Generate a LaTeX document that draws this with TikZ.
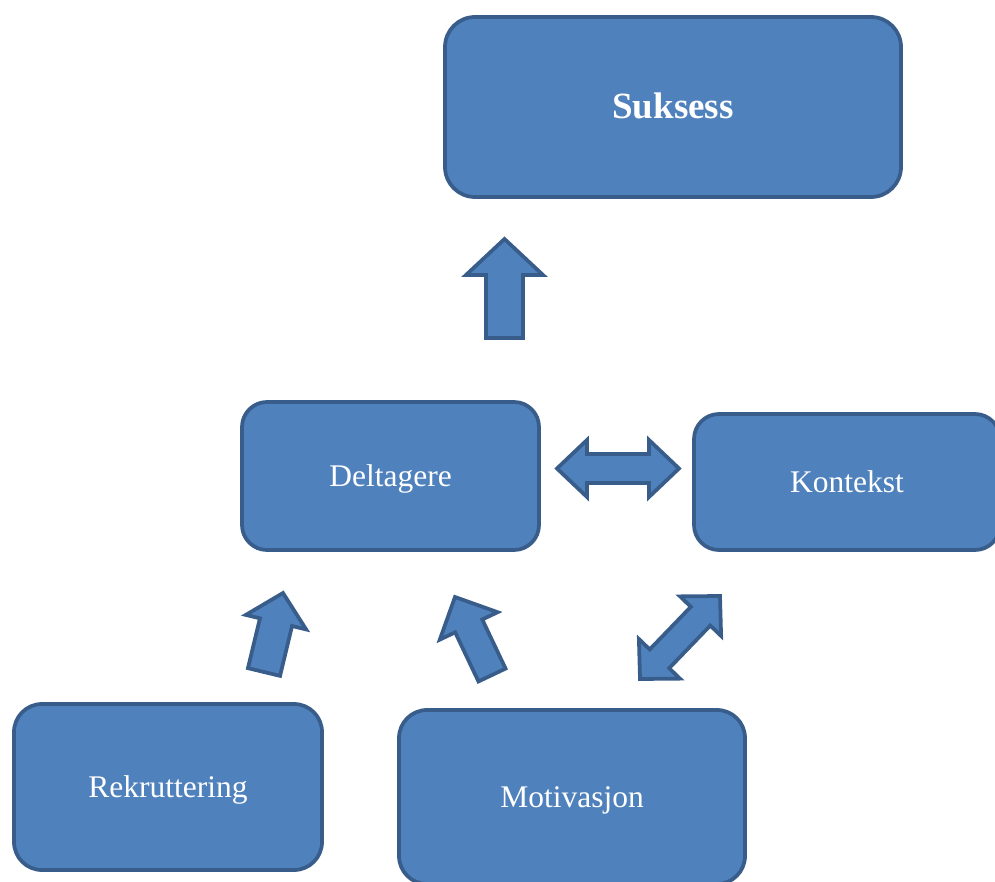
\documentclass[tikz,border=0pt]{standalone}
\usepackage{fontspec}
\setmainfont{Liberation Serif}
\usetikzlibrary{calc}
\definecolor{boxfill}{HTML}{4F81BD}
\definecolor{boxline}{HTML}{385D8A}
\tikzset{
  box/.style={draw=boxline, fill=boxfill, line width=3.75pt, text=white, font=\fontsize{31.5}{36}\selectfont, inner sep=0pt, text height=24pt, text depth=3pt},
  barrow/.style={draw=boxline, fill=boxfill, line width=3.75pt, line join=miter}
}
% single block arrow: base A, tip B, half shaft, half head, head length
\newcommand\singlearrow[5]{%
  \path[barrow] ($(#1)!#3!90:(#2)$) -- ($($(#2)!#5!(#1)$)!#3!90:(#2)$)
   -- ($($(#2)!#5!(#1)$)!#4!90:(#2)$) -- (#2)
   -- ($($(#2)!#5!(#1)$)!#4!-90:(#2)$) -- ($($(#2)!#5!(#1)$)!#3!-90:(#2)$)
   -- ($(#1)!#3!-90:(#2)$) -- cycle;}
% double block arrow: tips A and B
\newcommand\doublearrow[5]{%
  \path[barrow] (#1) -- ($($(#1)!#5!(#2)$)!#4!90:(#2)$) -- ($($(#1)!#5!(#2)$)!#3!90:(#2)$)
   -- ($($(#2)!#5!(#1)$)!#3!90:(#2)$) -- ($($(#2)!#5!(#1)$)!#4!90:(#2)$) -- (#2)
   -- ($($(#2)!#5!(#1)$)!#4!-90:(#2)$) -- ($($(#2)!#5!(#1)$)!#3!-90:(#2)$)
   -- ($($(#1)!#5!(#2)$)!#3!-90:(#2)$) -- ($($(#1)!#5!(#2)$)!#4!-90:(#2)$) -- cycle;}
\begin{document}
\begin{tikzpicture}[x=1pt,y=-1pt]
\useasboundingbox (0,0) rectangle (995,882);
\clip (0,0) rectangle (995,882);
\node[box, rounded corners=30pt, minimum width=456pt, minimum height=180pt,
      font=\fontsize{37}{42}\selectfont\bfseries, text height=27pt, text depth=3pt] (suk) at (673,107) {Suksess};
\node[box, rounded corners=25pt, minimum width=297pt, minimum height=148pt] (del) at (390.5,476) {Deltagere};
\node[box, rounded corners=25pt, minimum width=306pt, minimum height=136pt] (kon) at (847,482) {Kontekst};
\node[box, rounded corners=28pt, minimum width=308pt, minimum height=166pt] (rek) at (168,787) {Rekruttering};
\node[box, rounded corners=28pt, minimum width=346pt, minimum height=174pt] (mot) at (572,797) {Motivasjon};
% arrow anchors
\coordinate (a1b) at (504.5,338); \coordinate (a1t) at (504.5,239);
\coordinate (a2l) at (557,468.5); \coordinate (a2r) at (679,468.5);
\coordinate (a3b) at (264,672);   \coordinate (a3t) at (283,593);
\coordinate (a4b) at (492,675);   \coordinate (a4t) at (455,597);
\coordinate (a5l) at (640,679);   \coordinate (a5r) at (720,596);
\singlearrow{a1b}{a1t}{18.5pt}{38.5pt}{36pt}
\doublearrow{a2l}{a2r}{14.5pt}{28.5pt}{30pt}
\singlearrow{a3b}{a3t}{16.5pt}{31pt}{30pt}
\singlearrow{a4b}{a4t}{15pt}{32pt}{32pt}
\doublearrow{a5l}{a5r}{13.5pt}{28.5pt}{28pt}
\end{tikzpicture}
\end{document}
